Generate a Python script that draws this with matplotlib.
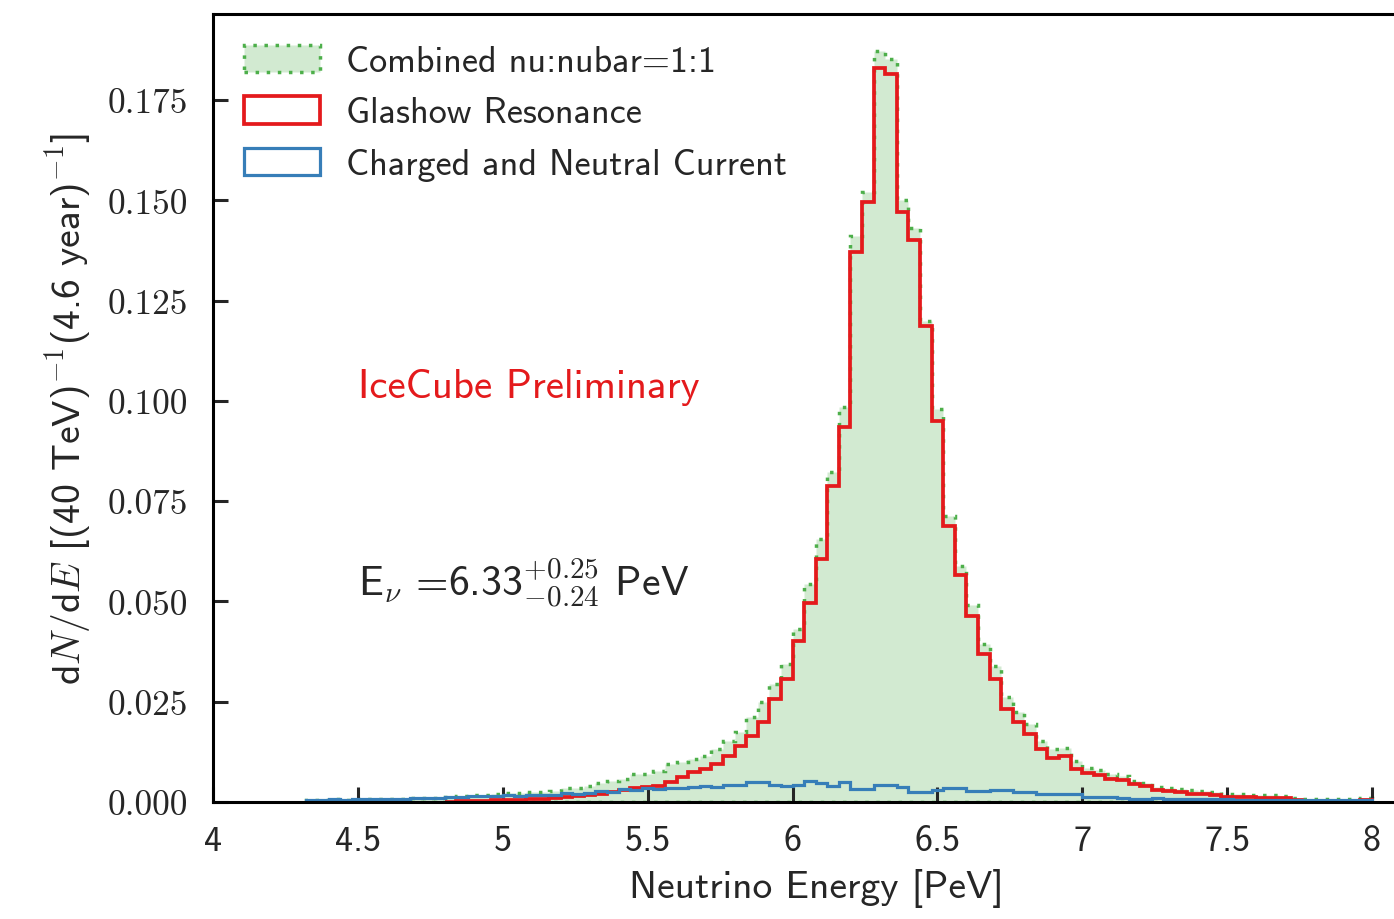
import numpy as np
import matplotlib
matplotlib.use("Agg")
import matplotlib.pyplot as plt
from matplotlib.ticker import FuncFormatter

plt.rcParams['font.family'] = ['cmss10', 'DejaVu Sans']
plt.rcParams['mathtext.fontset'] = 'cm'
plt.rcParams['axes.unicode_minus'] = False

# 40 TeV bins from 4 to 8 PeV
edges = np.linspace(4.0, 8.0, 101)

# Glashow resonance
glashow = [0.0] * 20 + [
    0.0001, 0.0002, 0.0002, 0.0003, 0.0004, 0.0005, 0.0006, 0.0007, 0.0008, 0.0010,
    0.0012, 0.0014, 0.0018, 0.0021, 0.0025, 0.0029, 0.0035, 0.0037, 0.0040, 0.0050,
    0.0062, 0.0075, 0.0082, 0.0095, 0.0115, 0.0140, 0.0165, 0.0199, 0.0257, 0.0307,
    0.0401, 0.0495, 0.0606, 0.0788, 0.0935, 0.1370, 0.1496, 0.1830, 0.1815, 0.1470,
    0.1400, 0.1187, 0.0950, 0.0688, 0.0566, 0.0464, 0.0369, 0.0307, 0.0232, 0.0199,
    0.0170, 0.0132, 0.0110, 0.0115, 0.0082, 0.0072, 0.0068, 0.0058, 0.0055, 0.0045,
    0.0040, 0.0030, 0.0027, 0.0025, 0.0021, 0.0020, 0.0018, 0.0013, 0.0012, 0.0012,
    0.0011, 0.0011, 0.0010, 0.0004, 0.0003, 0.0003, 0.0003, 0.0003, 0.0003, 0.0004]

# charged + neutral current
ccnc = [0.0] * 8 + [
    0.0005, 0.0006, 0.0007, 0.0006, 0.0007, 0.0007, 0.0008, 0.0007, 0.0008,
    0.0010, 0.0009, 0.0011,
    0.0012, 0.0012, 0.0015, 0.0014, 0.0015, 0.0017, 0.0016, 0.0017, 0.0018, 0.0017,
    0.0022, 0.0021, 0.0023, 0.0027, 0.0026, 0.0032, 0.0031, 0.0034, 0.0033, 0.0035,
    0.0034, 0.0037, 0.0040, 0.0038, 0.0042, 0.0043, 0.0050, 0.0049, 0.0042, 0.0041,
    0.0043, 0.0052, 0.0048, 0.0040, 0.0050, 0.0032, 0.0033, 0.0042, 0.0042, 0.0037,
    0.0025, 0.0026, 0.0031, 0.0034, 0.0035, 0.0027, 0.0027, 0.0031, 0.0030, 0.0025,
    0.0024, 0.0020, 0.0021, 0.0020, 0.0019, 0.0013, 0.0012, 0.0012, 0.0011, 0.0008,
    0.0008, 0.0009, 0.0008, 0.0008, 0.0007, 0.0008, 0.0007, 0.0007, 0.0006, 0.0006,
    0.0006, 0.0005, 0.0005, 0.0005, 0.0005, 0.0004, 0.0005, 0.0004, 0.0004, 0.0004]

# combined nu:nubar = 1:1
combined = [0.0] * 8 + [
    0.0005, 0.0006, 0.0007, 0.0006, 0.0007, 0.0007, 0.0008, 0.0007, 0.0008,
    0.0010, 0.0009, 0.0011,
    0.0013, 0.0014, 0.0017, 0.0018, 0.0019, 0.0022, 0.0023, 0.0024, 0.0025, 0.0027,
    0.0034, 0.0036, 0.0040, 0.0048, 0.0052, 0.0058, 0.0070, 0.0070, 0.0077, 0.0095,
    0.0100, 0.0107, 0.0115, 0.0132, 0.0152, 0.0175, 0.0212, 0.0249, 0.0294, 0.0344,
    0.0431, 0.0543, 0.0656, 0.0823, 0.0985, 0.1410, 0.1520, 0.1872, 0.1852, 0.1500,
    0.1430, 0.1200, 0.0980, 0.0713, 0.0588, 0.0490, 0.0395, 0.0338, 0.0262, 0.0224,
    0.0194, 0.0152, 0.0131, 0.0135, 0.0101, 0.0085, 0.0080, 0.0070, 0.0066, 0.0053,
    0.0048, 0.0038, 0.0035, 0.0033, 0.0029, 0.0028, 0.0026, 0.0021, 0.0020, 0.0018,
    0.0017, 0.0017, 0.0016, 0.0010, 0.0008, 0.0008, 0.0008, 0.0008, 0.0008, 0.0009]

labels = ['Combined nu:nubar=1:1', 'Glashow Resonance', 'Charged and Neutral Current']
xticks = [4, 4.5, 5, 5.5, 6, 6.5, 7, 7.5, 8]
yticks = [0.0, 0.025, 0.05, 0.075, 0.1, 0.125, 0.15, 0.175]

green = '#4daf4a'
red = '#e41a1c'
blue = '#377eb8'
txt = '#262626'

centers = 0.5 * (edges[:-1] + edges[1:])


def span(vals):
    # only draw from the first filled bin on, so empty bins leave no line
    vals = np.asarray(vals)
    i0 = np.nonzero(vals)[0][0]
    return centers[i0:], edges[i0:], vals[i0:]


fig = plt.figure(figsize=(13.94, 9.2), dpi=100)
ax = fig.add_axes([213 / 1394, 117 / 920, (1419 - 213) / 1394, 788 / 920])

x, b, w = span(combined)
ax.hist(x, bins=b, weights=w, histtype='stepfilled',
        facecolor=(0.302, 0.686, 0.290, 0.25), edgecolor=green,
        linestyle=(0, (1, 2.2)), linewidth=2.5, label=labels[0])
x, b, w = span(glashow)
ax.hist(x, bins=b, weights=w, histtype='step',
        color=red, linewidth=2.7, label=labels[1])
x, b, w = span(ccnc)
ax.hist(x, bins=b, weights=w, histtype='step',
        color=blue, linewidth=2.3, label=labels[2])

ax.set_xlim(4, 4 + (1419 - 213) / 289.75)
ax.set_ylim(0, 788 / 4011)
ax.set_xticks(xticks)
ax.set_yticks(yticks)
ax.xaxis.set_major_formatter(FuncFormatter(lambda v, p: '%g' % v))
ax.yaxis.set_major_formatter(FuncFormatter(lambda v, p: '%.3f' % v))

for s in ax.spines.values():
    s.set_linewidth(2.2)
ax.tick_params(direction='in', length=11, width=2.2, colors=txt)
ax.tick_params(axis='x', pad=16, labelsize=26)
ax.tick_params(axis='y', pad=18, labelsize=25.5, labelfontfamily='cmr10')

ax.set_xlabel('Neutrino Energy [PeV]', fontsize=28.5, color=txt, labelpad=8)
ax.set_ylabel(r'd$N$/d$E$ [(40 TeV)$^{-1}$(4.6 year)$^{-1}$]', fontsize=28.5,
              color=txt, labelpad=10)

ax.text(4.5, 0.1035, 'IceCube Preliminary', color=red, fontsize=29.5, va='center')
ax.text(4.5, 0.0514, r'E$_\nu$ =6.33$^{+0.25}_{-0.24}$ PeV', color=txt,
        fontsize=30, va='baseline')

leg = ax.legend(loc='upper left', frameon=False, fontsize=26,
                handlelength=2.1, handleheight=0.8, handletextpad=0.72,
                labelspacing=0.5, borderaxespad=0.5, borderpad=0.35)
for t in leg.get_texts():
    t.set_color(txt)

fig.savefig('out.png', dpi=100)
